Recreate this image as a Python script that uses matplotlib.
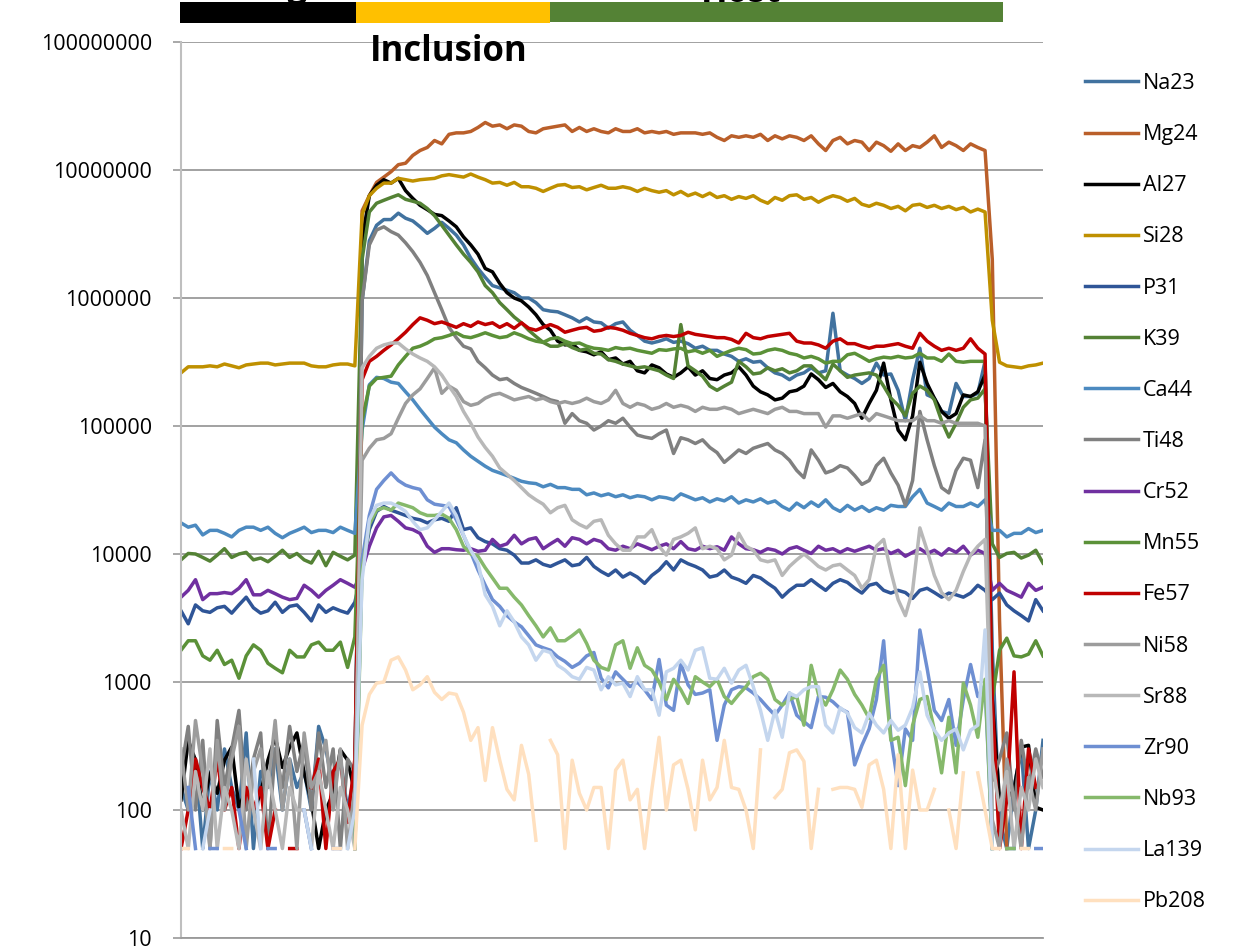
import numpy as np
import matplotlib
matplotlib.use("Agg")
import matplotlib.pyplot as plt
from matplotlib.patches import Rectangle

nan = np.nan

# LA-ICP-MS time-resolved signal (counts per second)
# 120 sweeps: gas blank, inclusion, host, wash-out
labels = ["Na23", "Mg24", "Al27", "Si28", "P31", "K39", "Ca44", "Ti48", "Cr52",
          "Mn55", "Fe57", "Ni58", "Sr88", "Zr90", "Nb93", "La139", "Pb208"]

na23 = [150, 100, 250, 50, 200, 100, 300, 150, 100, 400,
        50, 200, 150, 300, 100, 250, 150, 200, 100, 450,
        300, 150, 250, 100, 200, 9.5e5, 2.8e6, 3.7e6, 4.1e6, 4.1e6,
        4.6e6, 4.2e6, 4.0e6, 3.6e6, 3.2e6, 3.5e6, 3.9e6, 3.5e6, 3.1e6, 2.6e6,
        2.05e6, 1.7e6, 1.45e6, 1.25e6, 1.2e6, 1.15e6, 1.1e6, 1.0e6, 1.0e6, 9.2e5,
        8.1e5, 7.9e5, 7.8e5, 7.4e5, 7.0e5, 6.5e5, 7.0e5, 6.5e5, 6.4e5, 5.8e5,
        6.3e5, 6.5e5, 5.6e5, 5.1e5, 4.6e5, 4.45e5, 4.6e5, 4.8e5, 4.5e5, 4.6e5,
        4.4e5, 4.05e5, 4.2e5, 3.9e5, 3.9e5, 3.65e5, 3.5e5, 3.2e5, 3.35e5, 3.15e5,
        3.2e5, 2.85e5, 2.6e5, 2.5e5, 2.3e5, 2.5e5, 2.6e5, 2.85e5, 2.6e5, 2.7e5,
        7.6e5, 2.7e5, 2.5e5, 2.35e5, 2.15e5, 2.35e5, 3.1e5, 2.5e5, 2.55e5, 1.9e5,
        1.1e5, 2.3e5, 4.05e5, 1.75e5, 1.65e5, 1.3e5, 1.25e5, 2.15e5, 1.7e5, 1.7e5,
        1.8e5, 3.2e5, 1.8e3, 84, 50, 150, 300, 50, 100, 350]

mg24 = [nan, nan, nan, nan, nan, nan, nan, nan, nan, nan,
        nan, nan, nan, nan, nan, nan, nan, nan, nan, nan,
        nan, nan, nan, nan, 50, 4.8e6, 6.3e6, 8.0e6, 8.8e6, 9.7e6,
        1.1e7, 1.13e7, 1.3e7, 1.42e7, 1.5e7, 1.7e7, 1.6e7, 1.9e7, 1.95e7, 1.95e7,
        2.0e7, 2.15e7, 2.35e7, 2.2e7, 2.25e7, 2.1e7, 2.25e7, 2.2e7, 2.0e7, 1.95e7,
        2.1e7, 2.15e7, 2.2e7, 2.25e7, 2.0e7, 2.15e7, 2.0e7, 2.1e7, 2.0e7, 1.95e7,
        2.1e7, 2.0e7, 2.0e7, 2.1e7, 1.95e7, 2.0e7, 1.95e7, 2.0e7, 1.9e7, 1.95e7,
        1.95e7, 1.95e7, 1.9e7, 1.95e7, 1.8e7, 1.7e7, 1.85e7, 1.8e7, 1.85e7, 1.8e7,
        1.9e7, 1.7e7, 1.85e7, 1.75e7, 1.85e7, 1.8e7, 1.7e7, 1.85e7, 1.6e7, 1.42e7,
        1.7e7, 1.8e7, 1.6e7, 1.7e7, 1.65e7, 1.42e7, 1.65e7, 1.55e7, 1.4e7, 1.6e7,
        1.42e7, 1.55e7, 1.5e7, 1.65e7, 1.85e7, 1.5e7, 1.65e7, 1.55e7, 1.42e7, 1.6e7,
        1.5e7, 1.42e7, 2.0e6, 3.0e3, 50, nan, nan, nan, nan, nan]

al27 = [120, 350, 245, 100, 195, 135, 245, 310, 105, 145,
        100, 135, 245, 370, 215, 310, 400, 195, 115, 50,
        100, 135, 295, 245, 135, 2.8e6, 6.3e6, 7.6e6, 8.4e6, 7.9e6,
        8.6e6, 6.9e6, 6.0e6, 5.3e6, 4.9e6, 4.5e6, 4.4e6, 4.0e6, 3.6e6, 3.0e6,
        2.6e6, 2.2e6, 1.7e6, 1.6e6, 1.3e6, 1.1e6, 1.0e6, 9.5e5, 8.5e5, 7.4e5,
        6.2e5, 5.6e5, 4.6e5, 4.3e5, 4.4e5, 3.9e5, 3.8e5, 3.6e5, 3.8e5, 3.3e5,
        3.4e5, 3.05e5, 3.2e5, 2.7e5, 2.6e5, 3.0e5, 2.85e5, 2.55e5, 2.4e5, 2.6e5,
        2.9e5, 2.5e5, 2.7e5, 2.35e5, 2.3e5, 2.5e5, 2.6e5, 2.9e5, 2.5e5, 2.05e5,
        1.85e5, 1.75e5, 1.6e5, 1.65e5, 1.85e5, 1.9e5, 2.05e5, 2.55e5, 2.3e5, 2.0e5,
        2.15e5, 1.85e5, 1.7e5, 1.5e5, 1.15e5, 1.5e5, 1.9e5, 3.1e5, 1.6e5, 9.3e4,
        7.8e4, 1.2e5, 3.15e5, 2.15e5, 1.65e5, 1.3e5, 1.15e5, 1.25e5, 1.75e5, 1.7e5,
        1.85e5, 2.5e5, 730, 120, 120, 145, 310, 320, 105, 100]

si28 = [2.6e5, 2.9e5, 2.9e5, 2.9e5, 2.95e5, 2.9e5, 3.05e5, 2.95e5, 2.85e5, 3.0e5,
        3.05e5, 3.1e5, 3.1e5, 3.0e5, 3.05e5, 3.1e5, 3.1e5, 3.1e5, 2.95e5, 2.9e5,
        2.9e5, 3.0e5, 3.05e5, 3.05e5, 2.95e5, 4.5e6, 6.3e6, 7.2e6, 7.9e6, 7.9e6,
        8.6e6, 8.4e6, 8.2e6, 8.4e6, 8.5e6, 8.6e6, 9.0e6, 9.2e6, 9.0e6, 8.8e6,
        9.3e6, 8.8e6, 8.4e6, 7.9e6, 8.0e6, 7.6e6, 8.0e6, 7.4e6, 7.4e6, 7.2e6,
        6.8e6, 7.2e6, 7.6e6, 7.7e6, 7.3e6, 7.4e6, 7.0e6, 7.3e6, 7.6e6, 7.2e6,
        7.2e6, 7.4e6, 7.2e6, 6.8e6, 7.2e6, 6.9e6, 6.7e6, 6.9e6, 6.4e6, 6.8e6,
        6.3e6, 6.6e6, 6.2e6, 6.6e6, 6.1e6, 6.3e6, 5.9e6, 6.2e6, 6.0e6, 6.3e6,
        5.8e6, 5.5e6, 6.1e6, 5.8e6, 6.3e6, 6.4e6, 5.9e6, 6.1e6, 5.6e6, 6.0e6,
        6.3e6, 6.1e6, 5.7e6, 6.0e6, 5.4e6, 5.2e6, 5.5e6, 5.3e6, 5.0e6, 5.2e6,
        4.8e6, 5.3e6, 5.4e6, 5.1e6, 5.3e6, 5.0e6, 5.2e6, 4.9e6, 5.1e6, 4.7e6,
        4.95e6, 4.7e6, 6.7e5, 3.15e5, 2.95e5, 2.9e5, 2.85e5, 2.95e5, 3.0e5, 3.1e5]

p31 = [3.6e3, 2.85e3, 4.0e3, 3.6e3, 3.5e3, 3.8e3, 3.9e3, 3.45e3, 4.0e3, 4.6e3,
       3.8e3, 3.45e3, 3.6e3, 4.2e3, 3.5e3, 3.9e3, 4.0e3, 3.5e3, 3.0e3, 4.0e3,
       3.5e3, 3.8e3, 3.6e3, 3.45e3, 4.2e3, 7.5e3, 1.55e4, 2.15e4, 2.35e4, 2.2e4,
       2.1e4, 2.0e4, 1.9e4, 1.85e4, 1.75e4, 1.85e4, 1.9e4, 1.8e4, 2.3e4, 1.55e4,
       1.6e4, 1.34e4, 1.25e4, 1.2e4, 1.1e4, 1.07e4, 9.8e3, 8.5e3, 8.5e3, 9.0e3,
       8.3e3, 8.0e3, 8.5e3, 9.0e3, 8.1e3, 8.3e3, 9.4e3, 8.0e3, 7.3e3, 6.8e3,
       7.5e3, 6.6e3, 7.1e3, 6.6e3, 5.9e3, 6.8e3, 7.5e3, 8.7e3, 7.5e3, 9.0e3,
       8.4e3, 8.0e3, 7.5e3, 6.6e3, 6.8e3, 7.5e3, 6.6e3, 6.3e3, 5.9e3, 6.8e3,
       6.5e3, 5.9e3, 5.4e3, 4.6e3, 5.2e3, 5.7e3, 5.7e3, 6.3e3, 5.7e3, 5.2e3,
       5.9e3, 6.3e3, 6.0e3, 5.4e3, 4.95e3, 5.7e3, 5.9e3, 5.2e3, 4.95e3, 5.2e3,
       5.0e3, 4.5e3, 5.2e3, 5.4e3, 5.0e3, 4.6e3, 4.95e3, 4.8e3, 4.6e3, 4.95e3,
       5.7e3, 5.2e3, 4.4e3, 4.95e3, 4.0e3, 3.6e3, 3.3e3, 3.0e3, 4.4e3, 3.6e3]

k39 = [9.0e3, 1.01e4, 1.0e4, 9.4e3, 8.8e3, 9.8e3, 1.1e4, 9.4e3, 1.0e4, 1.03e4,
       9.0e3, 9.3e3, 8.7e3, 9.6e3, 1.07e4, 9.4e3, 1.01e4, 9.0e3, 8.5e3, 1.05e4,
       8.1e3, 1.03e4, 9.6e3, 9.0e3, 9.8e3, 2.0e6, 4.7e6, 5.5e6, 5.8e6, 6.1e6,
       6.4e6, 5.9e6, 5.7e6, 5.5e6, 5.0e6, 4.4e6, 3.7e6, 3.1e6, 2.6e6, 2.2e6,
       1.9e6, 1.6e6, 1.25e6, 1.1e6, 9.2e5, 8.1e5, 7.1e5, 6.4e5, 5.6e5, 5.0e5,
       4.5e5, 4.2e5, 4.2e5, 4.4e5, 4.1e5, 3.9e5, 4.0e5, 3.7e5, 3.65e5, 3.3e5,
       3.2e5, 3.05e5, 2.95e5, 2.85e5, 2.9e5, 2.8e5, 2.7e5, 2.5e5, 2.35e5, 6.2e5,
       2.95e5, 2.7e5, 2.45e5, 2.05e5, 1.9e5, 2.05e5, 2.2e5, 3.2e5, 2.9e5, 2.55e5,
       2.6e5, 2.85e5, 2.7e5, 2.8e5, 2.6e5, 2.7e5, 2.95e5, 2.95e5, 2.6e5, 2.3e5,
       3.05e5, 2.7e5, 2.4e5, 2.5e5, 2.55e5, 2.6e5, 2.5e5, 2.05e5, 1.65e5, 1.45e5,
       1.2e5, 1.8e5, 2.05e5, 1.9e5, 1.6e5, 1.1e5, 8.2e4, 1.05e5, 1.4e5, 1.6e5,
       1.65e5, 1.95e5, 1.2e4, 9.4e3, 1.01e4, 1.03e4, 9.3e3, 9.8e3, 1.07e4, 8.5e3]

ca44 = [1.75e4, 1.62e4, 1.68e4, 1.41e4, 1.53e4, 1.53e4, 1.45e4, 1.36e4, 1.53e4, 1.62e4,
        1.62e4, 1.53e4, 1.62e4, 1.45e4, 1.34e4, 1.45e4, 1.53e4, 1.62e4, 1.47e4, 1.53e4,
        1.53e4, 1.47e4, 1.62e4, 1.53e4, 1.45e4, 9.3e4, 2.1e5, 2.4e5, 2.35e5, 2.2e5,
        2.15e5, 1.85e5, 1.6e5, 1.35e5, 1.15e5, 9.8e4, 8.7e4, 7.8e4, 7.4e4, 6.5e4,
        5.8e4, 5.3e4, 4.85e4, 4.5e4, 4.3e4, 4.1e4, 3.9e4, 3.7e4, 3.6e4, 3.55e4,
        3.35e4, 3.5e4, 3.3e4, 3.3e4, 3.2e4, 3.2e4, 2.9e4, 3.0e4, 2.85e4, 2.95e4,
        2.8e4, 2.9e4, 2.75e4, 2.85e4, 2.8e4, 2.65e4, 2.8e4, 2.75e4, 2.65e4, 2.95e4,
        2.8e4, 2.65e4, 2.75e4, 2.55e4, 2.7e4, 2.6e4, 2.8e4, 2.5e4, 2.65e4, 2.55e4,
        2.7e4, 2.5e4, 2.6e4, 2.35e4, 2.2e4, 2.5e4, 2.3e4, 2.55e4, 2.35e4, 2.65e4,
        2.3e4, 2.15e4, 2.4e4, 2.2e4, 2.35e4, 2.15e4, 2.3e4, 2.2e4, 2.4e4, 2.35e4,
        2.35e4, 2.8e4, 3.2e4, 2.5e4, 2.35e4, 2.2e4, 2.5e4, 2.35e4, 2.35e4, 2.5e4,
        2.35e4, 2.65e4, 1.53e4, 1.53e4, 1.36e4, 1.45e4, 1.45e4, 1.58e4, 1.47e4, 1.53e4]

ti48 = [200, 450, 100, 350, 50, 500, 150, 300, 600, 100,
        250, 400, 50, 300, 150, 450, 200, 350, 100, 400,
        150, 300, 50, 250, 200, 9.5e5, 2.6e6, 3.4e6, 3.6e6, 3.3e6,
        3.1e6, 2.7e6, 2.3e6, 1.9e6, 1.5e6, 1.1e6, 8.1e5, 5.9e5, 4.9e5, 4.2e5,
        4.0e5, 3.2e5, 2.85e5, 2.5e5, 2.3e5, 2.35e5, 2.15e5, 2.0e5, 1.9e5, 1.8e5,
        1.7e5, 1.6e5, 1.55e5, 1.05e5, 1.25e5, 1.1e5, 1.05e5, 9.3e4, 1.0e5, 1.1e5,
        1.05e5, 1.15e5, 9.8e4, 8.5e4, 8.2e4, 8.0e4, 8.7e4, 9.3e4, 6.1e4, 8.1e4,
        7.8e4, 7.3e4, 7.8e4, 6.8e4, 6.2e4, 5.2e4, 5.8e4, 6.5e4, 6.1e4, 6.7e4,
        7.0e4, 7.3e4, 6.5e4, 6.1e4, 5.4e4, 4.5e4, 3.95e4, 6.5e4, 5.4e4, 4.3e4,
        4.5e4, 4.9e4, 4.7e4, 4.1e4, 3.5e4, 3.75e4, 4.9e4, 5.6e4, 4.3e4, 3.45e4,
        2.4e4, 3.75e4, 1.3e5, 7.8e4, 4.9e4, 3.3e4, 3.0e4, 4.5e4, 5.6e4, 5.4e4,
        3.3e4, 7.8e4, 170, 250, 400, 100, 350, 150, 300, 180]

cr52 = [4.6e3, 5.2e3, 6.3e3, 4.4e3, 4.9e3, 4.9e3, 5.0e3, 4.9e3, 5.4e3, 6.3e3,
        4.8e3, 4.8e3, 5.2e3, 4.9e3, 4.6e3, 4.4e3, 4.5e3, 5.7e3, 5.2e3, 4.6e3,
        5.2e3, 5.7e3, 6.3e3, 5.9e3, 5.5e3, 7.5e3, 1.15e4, 1.6e4, 1.95e4, 2.0e4,
        1.8e4, 1.6e4, 1.55e4, 1.45e4, 1.15e4, 1.03e4, 1.1e4, 1.1e4, 1.08e4, 1.07e4,
        1.1e4, 1.05e4, 1.07e4, 1.3e4, 1.15e4, 1.2e4, 1.4e4, 1.2e4, 1.3e4, 1.34e4,
        1.1e4, 1.2e4, 1.3e4, 1.15e4, 1.34e4, 1.3e4, 1.2e4, 1.3e4, 1.25e4, 1.1e4,
        1.07e4, 1.15e4, 1.1e4, 1.2e4, 1.14e4, 1.08e4, 1.15e4, 1.2e4, 1.1e4, 1.25e4,
        1.1e4, 1.07e4, 1.15e4, 1.1e4, 1.14e4, 1.07e4, 1.36e4, 1.2e4, 1.1e4, 1.08e4,
        1.03e4, 1.1e4, 1.07e4, 1.0e4, 1.1e4, 1.14e4, 1.07e4, 1.01e4, 1.15e4, 1.07e4,
        1.1e4, 1.03e4, 1.1e4, 1.05e4, 1.1e4, 1.15e4, 1.07e4, 1.1e4, 1.01e4, 1.07e4,
        9.6e3, 1.03e4, 1.1e4, 1.01e4, 1.07e4, 9.8e3, 1.1e4, 1.03e4, 1.15e4, 9.8e3,
        1.07e4, 1.01e4, 5.2e3, 5.9e3, 5.2e3, 4.9e3, 4.6e3, 5.9e3, 5.2e3, 5.5e3]

mn55 = [1.77e3, 2.1e3, 2.1e3, 1.6e3, 1.48e3, 1.77e3, 1.37e3, 1.48e3, 1.07e3, 1.6e3,
        1.95e3, 1.77e3, 1.4e3, 1.28e3, 1.18e3, 1.77e3, 1.57e3, 1.57e3, 1.95e3, 2.05e3,
        1.77e3, 1.77e3, 2.05e3, 1.3e3, 2.25e3, 1.1e5, 2.05e5, 2.35e5, 2.4e5, 2.45e5,
        3.0e5, 3.5e5, 4.05e5, 4.2e5, 4.45e5, 4.8e5, 4.9e5, 5.1e5, 5.35e5, 5.0e5,
        4.9e5, 5.1e5, 5.35e5, 5.1e5, 4.9e5, 5.0e5, 5.35e5, 5.1e5, 4.8e5, 4.6e5,
        4.5e5, 4.8e5, 4.9e5, 4.6e5, 4.4e5, 4.45e5, 4.2e5, 4.05e5, 4.0e5, 3.9e5,
        4.1e5, 4.0e5, 4.05e5, 3.9e5, 3.8e5, 3.7e5, 3.95e5, 3.9e5, 4.0e5, 4.05e5,
        3.8e5, 3.9e5, 3.7e5, 3.9e5, 3.5e5, 3.7e5, 3.9e5, 4.05e5, 3.95e5, 3.65e5,
        3.7e5, 3.9e5, 4.0e5, 3.9e5, 3.7e5, 3.6e5, 3.4e5, 3.5e5, 3.35e5, 3.1e5,
        3.2e5, 3.2e5, 3.6e5, 3.7e5, 3.45e5, 3.2e5, 3.35e5, 3.45e5, 3.4e5, 3.5e5,
        3.4e5, 3.45e5, 3.7e5, 3.4e5, 3.4e5, 3.2e5, 3.65e5, 3.2e5, 3.15e5, 3.2e5,
        3.2e5, 3.2e5, 730, 1.77e3, 2.2e3, 1.6e3, 1.57e3, 1.65e3, 2.1e3, 1.6e3]

fe57 = [50, 100, 250, 150, 100, 250, 100, 150, 50, 150,
        100, 150, 50, 100, nan, 50, 50, nan, 150, 250,
        50, 200, 250, 80, 250, 2.3e5, 3.2e5, 3.5e5, 3.9e5, 4.3e5,
        4.8e5, 5.4e5, 6.2e5, 7.0e5, 6.7e5, 6.3e5, 6.5e5, 6.2e5, 5.9e5, 6.3e5,
        6.0e5, 6.5e5, 6.2e5, 6.4e5, 5.9e5, 6.3e5, 5.8e5, 6.4e5, 5.8e5, 5.6e5,
        5.9e5, 6.2e5, 5.9e5, 5.4e5, 5.6e5, 5.8e5, 5.9e5, 5.5e5, 5.6e5, 5.9e5,
        5.8e5, 5.6e5, 5.3e5, 5.1e5, 4.9e5, 4.8e5, 5.0e5, 5.1e5, 5.0e5, 5.1e5,
        5.4e5, 5.2e5, 5.1e5, 5.0e5, 4.9e5, 4.9e5, 4.75e5, 4.45e5, 5.3e5, 4.9e5,
        4.8e5, 5.0e5, 5.1e5, 5.2e5, 5.3e5, 4.6e5, 4.45e5, 4.45e5, 4.3e5, 4.05e5,
        4.6e5, 4.8e5, 4.4e5, 4.4e5, 4.2e5, 4.05e5, 4.2e5, 4.2e5, 4.3e5, 4.4e5,
        4.2e5, 4.05e5, 5.3e5, 4.6e5, 4.2e5, 3.9e5, 4.05e5, 3.9e5, 4.05e5, 4.8e5,
        4.05e5, 3.65e5, 730, 50, 120, 1.2e3, 50, 300, 150, nan]

ni58 = [300, 100, 500, 200, 50, 350, 100, 250, 450, 50,
        200, 300, 150, 500, 100, 250, 50, 400, 150, 200,
        350, 100, 300, 50, 150, 5.4e4, 6.7e4, 7.8e4, 8.0e4, 8.7e4,
        1.15e5, 1.5e5, 1.75e5, 1.95e5, 2.35e5, 2.85e5, 1.8e5, 2.05e5, 1.9e5, 1.55e5,
        1.45e5, 1.5e5, 1.65e5, 1.75e5, 1.8e5, 1.7e5, 1.6e5, 1.65e5, 1.7e5, 1.6e5,
        1.65e5, 1.55e5, 1.5e5, 1.55e5, 1.5e5, 1.55e5, 1.65e5, 1.55e5, 1.5e5, 1.6e5,
        1.9e5, 1.5e5, 1.4e5, 1.5e5, 1.45e5, 1.35e5, 1.4e5, 1.5e5, 1.4e5, 1.45e5,
        1.4e5, 1.3e5, 1.4e5, 1.35e5, 1.35e5, 1.4e5, 1.35e5, 1.25e5, 1.3e5, 1.35e5,
        1.3e5, 1.25e5, 1.35e5, 1.4e5, 1.3e5, 1.3e5, 1.25e5, 1.25e5, 1.25e5, 9.8e4,
        1.2e5, 1.2e5, 1.15e5, 1.2e5, 1.25e5, 1.1e5, 1.25e5, 1.2e5, 1.15e5, 1.1e5,
        1.1e5, 1.1e5, 1.2e5, 1.1e5, 1.1e5, 1.05e5, 1.1e5, 1.05e5, 1.05e5, 1.05e5,
        1.05e5, 1.0e5, 84, 50, 250, 120, 50, 180, 100, 300]

sr88 = [100, 50, 200, 100, 300, 50, 150, 100, 50, 250,
        100, 50, 200, 100, 50, 150, 100, 100, 50, 200,
        100, 50, 150, 100, 50, 2.85e5, 3.5e5, 4.05e5, 4.3e5, 4.45e5,
        4.45e5, 4.0e5, 3.65e5, 3.4e5, 3.2e5, 2.9e5, 2.5e5, 2.05e5, 1.7e5, 1.3e5,
        1.05e5, 8.2e4, 6.8e4, 5.8e4, 4.7e4, 4.2e4, 3.75e4, 3.3e4, 2.9e4, 2.65e4,
        2.45e4, 2.1e4, 2.3e4, 2.4e4, 1.85e4, 1.7e4, 1.6e4, 1.8e4, 1.85e4, 1.4e4,
        1.2e4, 1.07e4, 1.07e4, 1.36e4, 1.36e4, 1.55e4, 1.15e4, 9.8e3, 1.3e4, 1.36e4,
        1.45e4, 1.6e4, 1.1e4, 1.15e4, 1.1e4, 9.0e3, 9.8e3, 1.45e4, 1.15e4, 1.07e4,
        9.0e3, 8.7e3, 9.0e3, 6.8e3, 8.0e3, 9.0e3, 1.0e4, 9.0e3, 8.0e3, 7.5e3,
        8.1e3, 8.3e3, 7.5e3, 6.8e3, 5.4e3, 6.3e3, 1.15e4, 1.3e4, 7.3e3, 4.4e3,
        3.3e3, 5.2e3, 1.6e4, 1.07e4, 6.8e3, 5.0e3, 4.4e3, 5.2e3, 7.3e3, 9.8e3,
        1.15e4, 1.3e4, 245, 100, 200, 50, 150, 100, 250, 150]

zr90 = [nan, 150, 50, nan, 50, 50, nan, nan, 100, 50,
        nan, nan, 50, 50, nan, nan, nan, 100, 50, nan,
        nan, 50, 50, nan, 50, 9.0e3, 2.0e4, 3.2e4, 3.75e4, 4.3e4,
        3.75e4, 3.45e4, 3.3e4, 3.2e4, 2.65e4, 2.45e4, 2.4e4, 2.35e4, 1.85e4, 1.4e4,
        1.03e4, 7.5e3, 5.7e3, 4.4e3, 3.9e3, 3.3e3, 2.95e3, 2.7e3, 2.3e3, 1.95e3,
        1.85e3, 1.77e3, 1.57e3, 1.45e3, 1.3e3, 1.4e3, 1.6e3, 1.7e3, 1.07e3, 900,
        1.2e3, 1.05e3, 920, 1.0e3, 870, 730, 1.5e3, 660, 600, 1.4e3,
        950, 800, 820, 870, 350, 660, 870, 920, 900, 820,
        730, 630, 550, 660, 820, 550, 490, 440, 770, 760,
        700, 620, 580, 225, 320, 430, 730, 2.1e3, 370, 155,
        430, 350, 2.55e3, 1.28e3, 600, 500, 730, 320, 730, 1.37e3,
        770, 950, 50, nan, 50, 50, nan, nan, 50, 50]

nb93 = [nan, nan, nan, nan, nan, nan, nan, nan, nan, nan,
        nan, nan, nan, nan, nan, nan, nan, nan, nan, nan,
        nan, nan, nan, nan, 50, 7.5e3, 1.7e4, 2.2e4, 2.3e4, 2.2e4,
        2.5e4, 2.4e4, 2.3e4, 2.1e4, 2.0e4, 2.0e4, 2.05e4, 1.9e4, 1.55e4, 1.15e4,
        1.0e4, 9.6e3, 7.8e3, 6.5e3, 5.4e3, 5.4e3, 4.6e3, 4.0e3, 3.3e3, 2.75e3,
        2.25e3, 2.65e3, 2.1e3, 2.1e3, 2.3e3, 2.55e3, 2.0e3, 1.48e3, 1.3e3, 1.24e3,
        1.95e3, 2.1e3, 1.28e3, 1.85e3, 1.35e3, 1.24e3, 1.0e3, 730, 1.05e3, 870,
        680, 1.1e3, 1.0e3, 920, 1.05e3, 770, 680, 800, 920, 1.1e3,
        1.17e3, 1.05e3, 730, 660, 730, 770, 460, 1.35e3, 800, 660,
        870, 1.24e3, 1.05e3, 800, 660, 520, 1.05e3, 1.35e3, 350, 370,
        155, 460, 730, 770, 420, 195, 530, 195, 980, 660,
        370, 1.05e3, 50, nan, 50, 50, nan, nan, nan, nan]

la139 = [nan, nan, nan, 50, 100, nan, nan, nan, nan, nan,
         250, 50, nan, nan, nan, nan, nan, 100, 50, nan,
         nan, nan, nan, 50, 100, 6.3e3, 1.85e4, 2.4e4, 2.5e4, 2.5e4,
         2.35e4, 2.15e4, 1.8e4, 1.55e4, 1.6e4, 1.85e4, 2.15e4, 2.5e4, 2.0e4, 1.4e4,
         1.07e4, 8.5e3, 4.8e3, 3.9e3, 2.75e3, 3.6e3, 2.95e3, 2.25e3, 1.95e3, 1.48e3,
         1.77e3, 1.7e3, 1.35e3, 1.24e3, 1.1e3, 1.05e3, 1.3e3, 1.24e3, 870, 1.1e3,
         950, 980, 770, 1.1e3, 870, 870, 550, 1.2e3, 1.28e3, 1.48e3,
         1.24e3, 1.77e3, 1.85e3, 1.07e3, 1.05e3, 1.28e3, 980, 1.24e3, 1.35e3, 920,
         600, 350, 600, 370, 820, 770, 870, 920, 920, 460,
         400, 630, 570, 440, 400, 570, 460, 400, 500, 420,
         460, 630, 1.2e3, 550, 420, 350, 400, 430, 295, 420,
         460, 2.55e3, 50, nan, nan, nan, nan, nan, nan, nan]

pb208 = [50, 50, nan, nan, nan, nan, 50, 50, nan, nan,
         nan, nan, nan, nan, nan, nan, nan, nan, nan, nan,
         nan, 50, 50, nan, 50, 460, 800, 980, 1.0e3, 1.48e3,
         1.57e3, 1.24e3, 870, 950, 1.1e3, 830, 730, 820, 800, 580,
         350, 440, 170, 440, 245, 145, 120, 320, 190, 58,
         nan, 350, 270, 50, 245, 135, 100, 150, 150, 50,
         205, 245, 120, 145, 50, 145, 370, 100, 225, 245,
         145, 70, 245, 120, 150, 350, 150, 145, 100, 50,
         295, nan, 125, 145, 280, 295, 240, 50, 145, nan,
         145, 150, 150, 145, 105, 225, 245, 145, 50, 270,
         50, 205, 100, 100, 145, nan, 100, 50, 195, nan,
         195, 100, 50, 50, nan, nan, 50, 50, nan, nan]

series = [na23, mg24, al27, si28, p31, k39, ca44, ti48, cr52,
          mn55, fe57, ni58, sr88, zr90, nb93, la139, pb208]
colors = ["#41729F", "#BA5F2A", "#000000", "#BF9000", "#2F5597", "#548235",
          "#4C8AC0", "#808080", "#7030A0", "#5B9138", "#C00000", "#9C9C9C",
          "#B8B8B8", "#6E8FD2", "#86B96B", "#C4D6EE", "#FFE0BF"]

plt.rcParams['font.family'] = ['Open Sans', 'DejaVu Sans']

W, H = 1234, 952
fig = plt.figure(figsize=(W / 100, H / 100), dpi=100)
ax = fig.add_axes([181 / W, (H - 938) / H, (1043 - 181) / W, (938 - 42) / H])

x = np.arange(len(na23))
for vals, name, col in zip(series, labels, colors):
    ax.plot(x, vals, color=col, lw=2.5, label=name, solid_joinstyle='round')

ax.set_yscale('log')
ax.set_ylim(10, 1e8)
ax.set_xlim(0, len(na23) - 1)
yt = [10, 100, 1000, 10000, 100000, 1000000, 10000000, 100000000]
ax.set_yticks(yt)
ax.set_yticklabels([str(v) for v in yt], fontsize=15.5)
ax.minorticks_off()
ax.tick_params(axis='y', length=6, width=1.2, color='#9A9A9A', pad=15)
ax.set_xticks([])
ax.grid(axis='y', color='#9A9A9A', lw=1.3)
ax.set_axisbelow(True)
for s in ['top', 'right']:
    ax.spines[s].set_visible(False)
ax.spines['left'].set_color('#BFBFBF')
ax.spines['left'].set_linewidth(1.5)
ax.spines['bottom'].set_color('#9A9A9A')
ax.spines['bottom'].set_linewidth(1.3)

fig.legend(loc='upper left', bbox_to_anchor=(1085 / W, 1 - 73 / H),
           frameon=False, fontsize=15.5, handlelength=2.45, handletextpad=0.25,
           labelspacing=1.4, borderpad=0, borderaxespad=0)

# segment bars along the top
for x0, x1, c, h in [(180, 356, '#000000', 21), (356, 550, '#FFC000', 21),
                     (550, 1003, '#548235', 20)]:
    fig.patches.append(Rectangle((x0 / W, 1 - (2 + h) / H), (x1 - x0) / W, h / H,
                                 transform=fig.transFigure, color=c, lw=0))

# labels partly above the figure edge, as in the source picture
fig.text(449 / W, 1 - 61 / H, 'Inclusion', ha='center', va='baseline',
         fontsize=25, fontweight='bold')
fig.text(741 / W, 1 - 2 / H, 'Host', ha='center', va='baseline',
         fontsize=25, fontweight='bold')
fig.text(205 / W, 1 + 4 / H, 'Background', ha='left', va='baseline',
         fontsize=25, fontweight='bold')

fig.savefig('out.png', dpi=100)
